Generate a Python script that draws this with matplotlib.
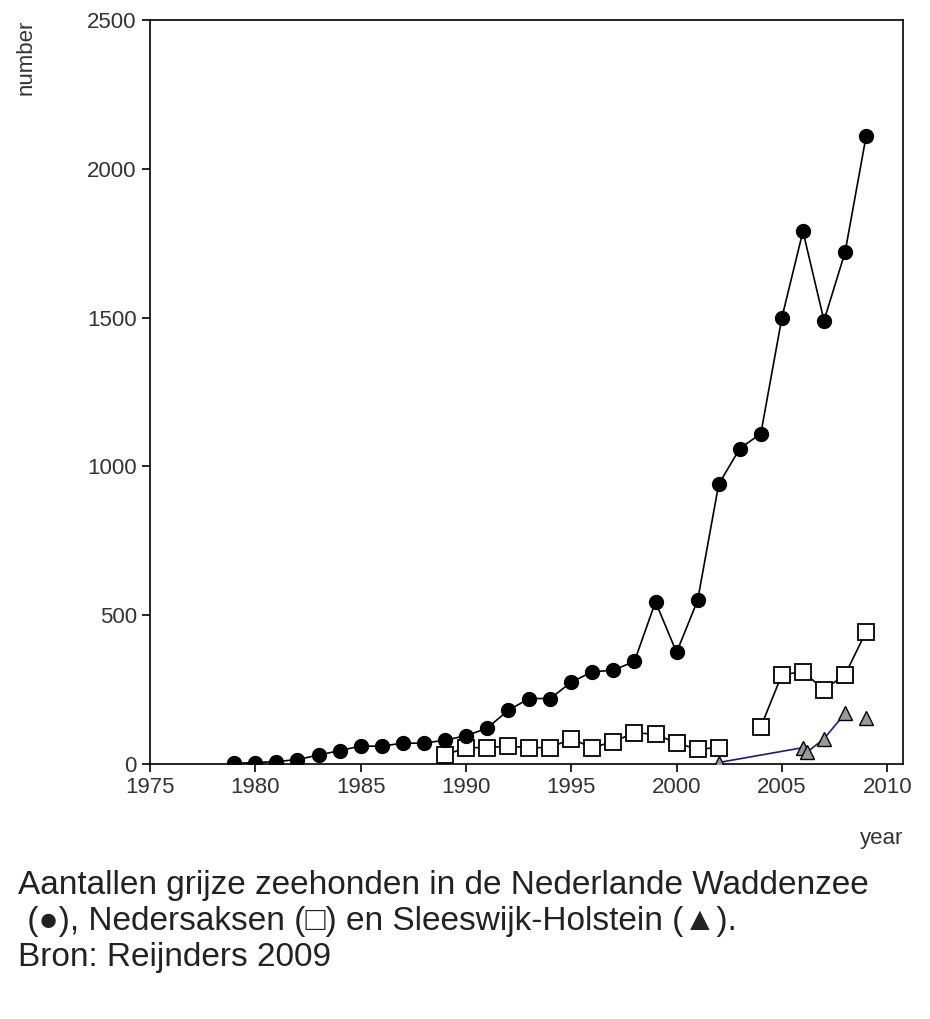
import numpy as np
import matplotlib.pyplot as plt

plt.rcParams['font.family'] = ['Liberation Sans', 'DejaVu Sans']

nl_years = list(range(1979, 2010))
nl_counts = [2, 5, 8, 15, 30, 45, 60, 60, 70, 70, 80, 95, 120, 180, 220, 220,
             275, 310, 315, 345, 545, 375, 550, 940, 1060, 1110, 1500, 1790,
             1490, 1720, 2110]

nds_years = [1989, 1990, 1991, 1992, 1993, 1994, 1995, 1996, 1997, 1998, 1999,
             2000, 2001, 2002, np.nan, 2004, 2005, 2006, 2007, 2008, 2009]
nds_counts = [30, 55, 55, 60, 55, 55, 85, 55, 75, 105, 100, 70, 50, 55, np.nan,
              125, 300, 310, 250, 300, 445]

sh_years = [2002, 2006, 2006.2, 2007, 2008, 2009]
sh_counts = [5, 55, 40, 85, 170, 155]

fig = plt.figure(figsize=(9.3, 10.19), dpi=100)
ax = fig.add_axes([150/930, 1 - 764/1019, 753/930, 744/1019])

ax.plot(nl_years, nl_counts, color='black', lw=1.2, marker='o', ms=10,
        mfc='black', mec='black', zorder=3)
ax.plot(nds_years, nds_counts, color='black', lw=1.2, marker='s', ms=12,
        mfc='white', mec='black', mew=1.3, zorder=2)
ax.plot(sh_years[:5], sh_counts[:5], color='#1a1a8c', lw=1.2, zorder=2)
ax.plot(sh_years, sh_counts, ls='none', marker='^', ms=10,
        mfc='#999999', mec='black', zorder=4)

ax.set_xlim(1975, 2010.75)
ax.set_ylim(0, 2500)
ax.set_xticks(range(1975, 2011, 5))
ax.set_yticks(range(0, 2501, 500))
ax.tick_params(labelsize=16, labelcolor='#333333', direction='out',
               length=6, width=1.2)
for s in ax.spines.values():
    s.set_linewidth(1.2)
ax.set_ylabel('number', fontsize=16, color='#333333')
ax.yaxis.set_label_coords(-0.15, 0.95)
ax.text(1.0, -0.1, 'year', transform=ax.transAxes, fontsize=16,
        ha='right', va='center', color='#333333')

caption = ('Aantallen grijze zeehonden in de Nederlande Waddenzee\n'
           ' (\u25cf), Nedersaksen (\u25a1) en Sleeswijk-Holstein (\u25b2).\n'
           'Bron: Reijnders 2009')
fig.text(18/930, 1 - 870/1019, caption, fontsize=24, va='top', ha='left',
         linespacing=1.2, color='#222222')

fig.savefig('out.png')
